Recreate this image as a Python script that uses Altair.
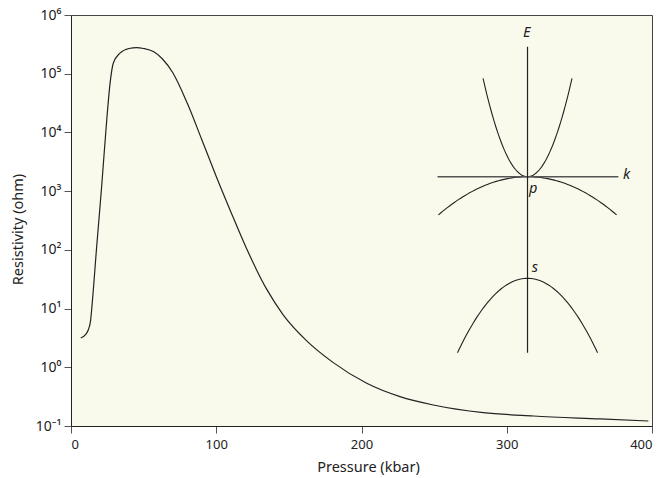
import json

import altair as alt
import numpy as np
import pandas as pd

# Resistivity versus pressure
pressure_kbar = [6.7, 10, 12, 13.5, 14.2, 17.7, 21.1, 24.6, 26.9, 29.1, 33.7, 40, 45.2,
                 50, 56.7, 63, 70, 80, 90, 100, 110, 120, 134.7, 146.2, 162.3, 180.6,
                 203.6, 226.5, 249.4, 283.9, 318.3, 364.2, 397.5]
resistivity_ohm = [3.16, 3.6, 4.4, 6.3, 9.5, 115, 1200, 16300, 69000, 151000, 224000,
                   269000, 279000, 269000, 238000, 178000, 104700, 31600, 7590, 1778,
                   447, 117.5, 21.4, 7.76, 2.82, 1.20, 0.533, 0.316, 0.228, 0.169,
                   0.148, 0.132, 0.1216]

x_ticks = [0, 100, 200, 300, 400]
y_ticks = [0.1, 1, 10, 100, 1000, 10000, 100000, 1000000]
y_tick_labels = ["10⁻¹", "10⁰", "10¹", "10²", "10³", "10⁴", "10⁵", "10⁶"]

# Band-structure sketch: E(k) = E0 + c * k^2 for each band
band_names = ["conduction", "p", "s"]
band_E0 = [0.0, 0.0, -1.016]
band_curv = [4.03, -0.39, -1.229]
band_halfwidth = [0.494, 0.99, 0.778]

k_axis = {"k": -1.0, "k2": 1.01, "E": 0.0}
E_axis = {"k": 0.0, "E": -1.76, "E2": 1.30}
sketch_labels = ["E", "k", "p", "s"]
sketch_label_k = [-0.01, 1.10, 0.064, 0.083]
sketch_label_E = [1.434, 0.017, -0.126, -0.916]

k_domain = [-5.072, 1.383]
E_domain = [-2.493, 1.617]

FONT = "Noto Sans"
INK = "#222222"

curve = pd.DataFrame({"pressure": pressure_kbar, "resistivity": resistivity_ohm})

rows = []
for name, e0, c, hw in zip(band_names, band_E0, band_curv, band_halfwidth):
    for k in np.linspace(-hw, hw, 81):
        rows.append({"band": name, "k": float(k), "E": e0 + c * float(k) ** 2})
bands = pd.DataFrame(rows)

label_expr = json.dumps(y_tick_labels, ensure_ascii=False) + "[round(log(datum.value)/LN10)+1]"

main = alt.Chart(curve).mark_line(
    color=INK, strokeWidth=1.2, interpolate="monotone"
).encode(
    x=alt.X("pressure:Q",
            scale=alt.Scale(domain=[0, 400], nice=False),
            axis=alt.Axis(title="Pressure (kbar)", values=x_ticks, format="d",
                          titleX=297, titleY=41, titleBaseline="middle")),
    y=alt.Y("resistivity:Q",
            scale=alt.Scale(type="log", domain=[0.1, 1e6], nice=False),
            axis=alt.Axis(title="Resistivity (ohm)", values=y_ticks, labelExpr=label_expr,
                          titleX=-53, titleY=214, titleBaseline="middle",
                          labelFontSize=14, labelPadding=3)),
)

kx = alt.X("k:Q", scale=alt.Scale(domain=k_domain, nice=False, zero=False), axis=None)
ey = alt.Y("E:Q", scale=alt.Scale(domain=E_domain, nice=False, zero=False), axis=None)

band_lines = alt.Chart(bands).mark_line(color=INK, strokeWidth=1.1).encode(
    x=kx, y=ey, detail="band:N", order="k:Q"
)

k_line = alt.Chart(pd.DataFrame([k_axis])).mark_rule(color="#555555", strokeWidth=1.4).encode(
    x=kx, x2="k2:Q", y=ey
)
E_line = alt.Chart(pd.DataFrame([E_axis])).mark_rule(color=INK, strokeWidth=1.2).encode(
    x=kx, y=ey, y2="E2:Q"
)
labels = alt.Chart(pd.DataFrame({"t": sketch_labels, "k": sketch_label_k, "E": sketch_label_E})).mark_text(
    font=FONT, fontSize=14.5, fontStyle="italic", color=INK, align="center", baseline="middle"
).encode(x=kx, y=ey, text="t:N")

sketch = alt.layer(band_lines, k_line, E_line, labels)

chart = alt.layer(main, sketch).resolve_scale(
    x="independent", y="independent"
).properties(
    width=581, height=411,
    autosize=alt.AutoSizeParams(type="none"),
    padding={"left": 71, "top": 15, "right": 10, "bottom": 52},
    background="white",
).configure_view(
    fill="#FAFAEC", stroke="#444444", strokeWidth=1
).configure_axis(
    labelFont=FONT, titleFont=FONT, labelFontSize=13, titleFontSize=14.5,
    labelColor="#222222", titleColor="#222222", titleFontWeight="normal",
    domainColor="#222222", tickColor="#555555", tickSize=7, grid=False,
    labelPadding=5,
)

chart.save("out.html", embed_options={"renderer": "svg", "actions": False})
